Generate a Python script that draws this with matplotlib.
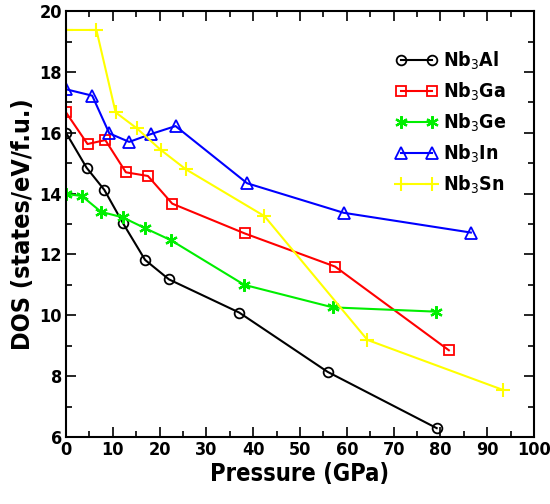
import matplotlib
matplotlib.use('Agg')
import matplotlib.pyplot as plt
from matplotlib.ticker import MultipleLocator

plt.rcParams['font.family'] = ['DejaVu Sans']
plt.rcParams['font.stretch'] = 'condensed'

al_p = [0, 4.4, 8.2, 12.2, 16.9, 22.0, 37.0, 55.9, 79.2]
al_dos = [16.0, 14.85, 14.12, 13.02, 11.82, 11.18, 10.09, 8.14, 6.29]

ga_p = [0, 4.6, 8.4, 12.8, 17.5, 22.7, 38.2, 57.5, 81.8]
ga_dos = [16.67, 15.63, 15.76, 14.70, 14.58, 13.67, 12.69, 11.60, 8.85]

ge_p = [0, 3.4, 7.5, 12.1, 16.8, 22.4, 38.1, 57.0, 79.0]
ge_dos = [13.99, 13.92, 13.40, 13.22, 12.87, 12.47, 11.0, 10.26, 10.12]

in_p = [0, 5.6, 9.25, 13.5, 18.2, 23.4, 38.7, 59.3, 86.5]
in_dos = [17.43, 17.22, 15.98, 15.70, 15.96, 16.22, 14.34, 13.37, 12.72]

sn_p = [0, 6.5, 10.6, 15.1, 20.3, 25.6, 42.4, 64.4, 93.3]
sn_dos = [19.38, 19.38, 16.67, 16.15, 15.43, 14.80, 13.26, 9.19, 7.55]

fig = plt.figure(figsize=(5.5, 5.04), dpi=100)
ax = fig.add_axes([0.12, 0.133, 0.851, 0.845])

ax.plot(al_p, al_dos, color='black', lw=1.5, marker='o', ms=7, mfc='none', mew=1.3, label='Nb$_3$Al')
ax.plot(ga_p, ga_dos, color='red', lw=1.5, marker='s', ms=7, mfc='none', mew=1.3, label='Nb$_3$Ga')
ax.plot(ge_p, ge_dos, color='#00ee00', lw=1.5, marker=(6, 2, 0), ms=9, mew=1.6, label='Nb$_3$Ge')
ax.plot(in_p, in_dos, color='blue', lw=1.5, marker='^', ms=8, mfc='none', mew=1.3, label='Nb$_3$In')
ax.plot(sn_p, sn_dos, color='yellow', lw=1.5, marker='+', ms=10, mew=1.5, label='Nb$_3$Sn')

ax.set_xlim(0, 100)
ax.set_ylim(6, 20)
ax.xaxis.set_major_locator(MultipleLocator(10))
ax.xaxis.set_minor_locator(MultipleLocator(5))
ax.yaxis.set_major_locator(MultipleLocator(2))
ax.yaxis.set_minor_locator(MultipleLocator(1))
ax.tick_params(which='both', direction='in', top=True, right=True, width=1.2)
ax.tick_params(which='major', length=7, labelsize=13, pad=3)
ax.tick_params(which='minor', length=4)
for lab in ax.get_xticklabels() + ax.get_yticklabels():
    lab.set_fontweight('bold')
for sp in ax.spines.values():
    sp.set_linewidth(1.5)

ax.set_xlabel('Pressure (GPa)', fontsize=17, fontweight='bold', labelpad=2)
ax.set_ylabel('DOS (states/eV/f.u.)', fontsize=18, fontweight='bold', labelpad=3)

leg = ax.legend(loc='upper left', bbox_to_anchor=(0.665, 0.95), frameon=False, numpoints=2,
                handlelength=2.2, handletextpad=0.3, labelspacing=0.45,
                prop={'size': 14, 'weight': 'bold', 'stretch': 'condensed'})

fig.savefig('out.png', dpi=100)
